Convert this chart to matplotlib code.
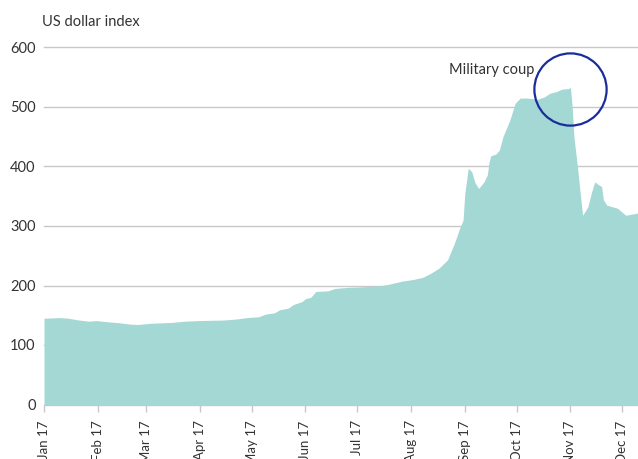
import matplotlib

matplotlib.use("Agg")

import matplotlib.pyplot as plt
import pandas as pd

DATES = [
    "2017-01-01", "2017-01-10", "2017-01-15", "2017-01-21", "2017-01-27", "2017-01-31",
    "2017-02-07", "2017-02-13", "2017-02-20", "2017-02-24", "2017-03-04", "2017-03-16",
    "2017-03-23", "2017-03-31", "2017-04-15", "2017-04-23", "2017-04-28", "2017-05-05",
    "2017-05-09", "2017-05-14", "2017-05-17", "2017-05-22", "2017-05-25", "2017-05-30",
    "2017-06-01", "2017-06-04", "2017-06-07", "2017-06-14", "2017-06-18", "2017-06-26",
    "2017-07-05", "2017-07-15", "2017-07-19", "2017-07-27", "2017-08-02", "2017-08-08",
    "2017-08-12", "2017-08-17", "2017-08-22", "2017-08-26", "2017-08-29", "2017-08-31",
    "2017-09-01", "2017-09-03", "2017-09-05", "2017-09-07", "2017-09-09", "2017-09-12",
    "2017-09-14", "2017-09-15", "2017-09-16", "2017-09-19", "2017-09-21", "2017-09-23",
    "2017-09-27", "2017-09-30", "2017-10-03", "2017-10-07", "2017-10-13", "2017-10-17",
    "2017-10-20", "2017-10-24", "2017-10-27", "2017-10-31", "2017-11-01", "2017-11-02",
    "2017-11-03", "2017-11-05", "2017-11-08", "2017-11-11", "2017-11-13", "2017-11-15",
    "2017-11-17", "2017-11-19", "2017-11-20", "2017-11-22", "2017-11-28", "2017-12-03",
    "2017-12-10",
]
VALUES = [
    145, 146, 145, 142, 140, 141,
    139, 137.5, 135, 134.5, 136.5, 138,
    140, 141, 142, 144, 146, 147.5,
    152, 154, 159, 162, 168, 173,
    178, 180, 190, 191, 195, 197,
    198, 200, 202, 207.5, 210, 214,
    220, 229, 243, 271, 296, 310,
    355, 397, 391, 372, 363, 374,
    386, 408, 418, 421, 428, 450,
    478, 506, 515, 515, 513, 517,
    523, 526, 530, 531, 533, 500,
    450, 400, 318, 332, 355, 374,
    370, 366, 344, 335, 330, 318,
    322,
]

MONTH_TICKS = pd.date_range("2017-01-01", "2017-12-01", freq="MS")
MONTH_LABELS = ["Jan 17", "Feb 17", "Mar 17", "Apr 17", "May 17", "Jun 17",
                "Jul 17", "Aug 17", "Sep 17", "Oct 17", "Nov 17", "Dec 17"]
Y_TICKS = [0, 100, 200, 300, 400, 500, 600]

COUP_DATE = "2017-11-01"
COUP_VALUE = 530
COUP_LABEL_DATE = "2017-10-11"
COUP_LABEL_VALUE = 562

FILL_COLOR = "#a3d8d5"
TEXT_COLOR = "#333333"
GRID_COLOR = "#c8c8c8"
CIRCLE_COLOR = "#1a2d9b"

plt.rcParams["font.family"] = ["Lato", "DejaVu Sans"]

dates = pd.to_datetime(DATES)

fig = plt.figure(figsize=(6.38, 4.59), dpi=100)
ax = fig.add_axes([44 / 638, 54.5 / 459, 594 / 638, 357 / 459])

ax.fill_between(dates, VALUES, 0, color=FILL_COLOR, linewidth=0, zorder=2)

ax.set_xlim(pd.Timestamp("2017-01-01"), pd.Timestamp("2017-12-10"))
ax.set_ylim(0, 600)
ax.set_yticks(Y_TICKS)
ax.set_yticklabels([str(v) for v in Y_TICKS])
ax.set_xticks(MONTH_TICKS)
ax.set_xticklabels(MONTH_LABELS, rotation=90)

ax.grid(axis="y", color=GRID_COLOR, linewidth=1.0, zorder=0)
for line in ax.yaxis.get_gridlines():
    line.set_clip_on(False)
ax.set_axisbelow(True)
for side in ["top", "right", "left", "bottom"]:
    ax.spines[side].set_visible(False)

ax.tick_params(axis="y", length=0, pad=6, labelsize=10.5, labelcolor=TEXT_COLOR)
ax.tick_params(axis="x", length=5, width=1, color=GRID_COLOR, pad=6.5,
               labelsize=9.5, labelcolor=TEXT_COLOR)

ax.plot([pd.Timestamp(COUP_DATE)], [COUP_VALUE], marker="o", markersize=52,
        markerfacecolor="none", markeredgecolor=CIRCLE_COLOR, markeredgewidth=1.6,
        zorder=4, clip_on=False)
ax.text(pd.Timestamp(COUP_LABEL_DATE), COUP_LABEL_VALUE, "Military coup",
        ha="right", va="center", fontsize=10.5, color=TEXT_COLOR, zorder=5)

fig.text(42 / 638, 1 - 22 / 459, "US dollar index", ha="left", va="center",
         fontsize=10.5, color=TEXT_COLOR)

fig.savefig("out.png", dpi=100)
